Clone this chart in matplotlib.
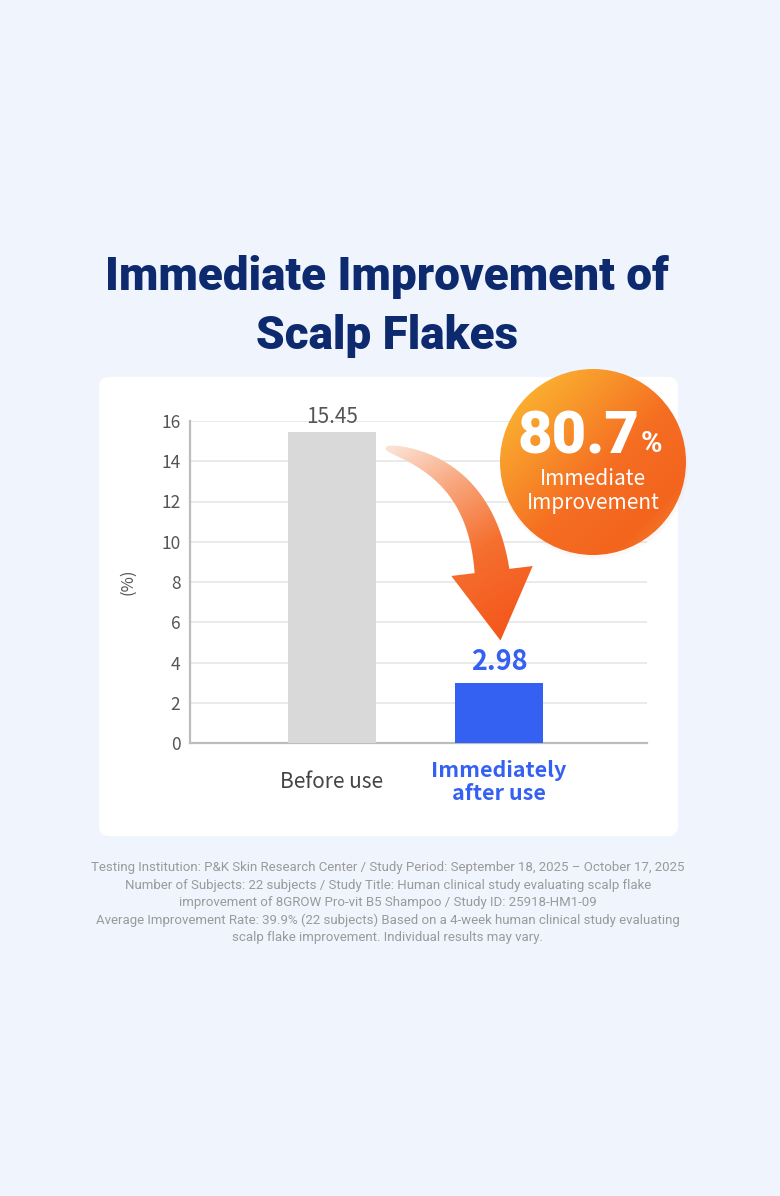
import numpy as np
import matplotlib
matplotlib.use("Agg")
import matplotlib.pyplot as plt
from matplotlib.patches import FancyBboxPatch, Circle, PathPatch
from matplotlib.path import Path
from matplotlib.colors import LinearSegmentedColormap
import matplotlib.transforms as mtransforms

# ---------------- data ----------------
categories = ["Before use", "Immediately\nafter use"]
values = [15.45, 2.98]
value_labels = ["15.45", "2.98"]
yticks = [0, 2, 4, 6, 8, 10, 12, 14, 16]
title_lines = ["Immediate Improvement of", "Scalp Flakes"]
badge_value = "80.7"
badge_unit = "%"
badge_text = ["Immediate", "Improvement"]
footnote_lines = [
    "Testing Institution: P&K Skin Research Center / Study Period: September 18, 2025 \u2013 October 17, 2025",
    "Number of Subjects: 22 subjects / Study Title: Human clinical study evaluating scalp flake",
    "improvement of 8GROW Pro-vit B5 Shampoo / Study ID: 25918-HM1-09",
    "Average Improvement Rate: 39.9% (22 subjects) Based on a 4-week human clinical study evaluating",
    "scalp flake improvement. Individual results may vary.",
]

# ---------------- style ----------------
W, H = 780, 1196
BG = "#EFF4FD"
NAVY = "#0E2A6E"
BLUE = "#3461F2"
GRAY_BAR = "#D9D9D9"
TXT = "#555555"
KR = ['Noto Sans CJK KR', 'DejaVu Sans']

plt.rcParams['font.family'] = ['Roboto', 'DejaVu Sans']

fig = plt.figure(figsize=(W / 100, H / 100), dpi=100, facecolor=BG)

# background overlay (pixel coordinates, y downward)
bg = fig.add_axes([0, 0, 1, 1], zorder=0)
bg.set_xlim(0, W); bg.set_ylim(H, 0); bg.axis("off")
card = FancyBboxPatch((99, 377), 579, 459, boxstyle="round,pad=0,rounding_size=10",
                      facecolor="white", edgecolor="none")
bg.add_patch(card)

# ---------------- chart ----------------
ax = fig.add_axes([190 / W, 1 - 743 / H, (647 - 190) / W, (743 - 421) / H], zorder=2)
ax.set_facecolor("none")
x = np.arange(len(categories))
ax.bar(x, values, width=0.527, color=[GRAY_BAR, BLUE], zorder=3)
ax.set_xlim(-0.85, 1.886)
ax.set_ylim(0, 16)
ax.set_yticks(yticks)
ax.set_xticks([])
ax.grid(axis="y", color="#E6E6E6", linewidth=1.2, zorder=0)
for s in ["top", "right"]:
    ax.spines[s].set_visible(False)
for s in ["left", "bottom"]:
    ax.spines[s].set_color("#BDBDBD")
    ax.spines[s].set_linewidth(1.6)
ax.tick_params(axis="y", length=0, pad=7, labelsize=12.5, labelcolor=TXT)
for lab in ax.get_yticklabels():
    lab.set_fontfamily(KR)
    lab.set_fontweight("light")

# value labels
ax.annotate(value_labels[0], (x[0], values[0]), xytext=(0, 3), textcoords="offset points",
            ha="center", va="bottom", fontsize=15, color=TXT, family=KR,
            fontweight="light", zorder=4)
ax.annotate(value_labels[1], (x[1], values[1]), xytext=(0, 15), textcoords="offset points",
            ha="center", va="center", fontsize=19.5, color=BLUE, fontweight="bold",
            family=KR, zorder=4)

# category labels
trans = mtransforms.blended_transform_factory(ax.transData, ax.transAxes)
ax.text(x[0], -39 / 322, categories[0], transform=trans, ha="center", va="center",
        fontsize=15, color="#444444", family=KR)
ax.text(x[1], -39 / 322, categories[1], transform=trans, ha="center", va="center",
        fontsize=15.5, color=BLUE, fontweight="bold", linespacing=1.12, family=KR)

fig.text(128 / W, 1 - 582 / H, "(%)", rotation=90, ha="center", va="center",
         fontsize=12, color=TXT, family=KR, fontweight="light")

# ---------------- title ----------------
fig.text(387 / W, 1 - 277 / H, title_lines[0], ha="center", va="center",
         fontsize=33, fontweight=900, color=NAVY)
fig.text(387 / W, 1 - 336 / H, title_lines[1], ha="center", va="center",
         fontsize=33, fontweight=900, color=NAVY)

# ---------------- foreground decorations ----------------
fg = fig.add_axes([0, 0, 1, 1], zorder=5)
fg.set_xlim(0, W); fg.set_ylim(H, 0); fg.axis("off")
fg.patch.set_alpha(0)

# curved arrow
def bez(p0, p1, p2, t):
    t = t[:, None]
    return (1 - t) ** 2 * p0 + 2 * (1 - t) * t * p1 + t ** 2 * p2

p0 = np.array([386.0, 448.0]); p1 = np.array([480.0, 468.0]); p2 = np.array([492.0, 571.0])
t = np.linspace(0, 1, 80)
c = bez(p0, p1, p2, t)
d = np.gradient(c, axis=0)
d /= np.linalg.norm(d, axis=1)[:, None]
nrm = np.stack([-d[:, 1], d[:, 0]], axis=1)
wdt = 1.5 + 16 * t ** 0.55
left = c + nrm * wdt[:, None]
right = c - nrm * wdt[:, None]
tang = d[-1]; n_end = nrm[-1]
head_l = c[-1] + n_end * 41
head_r = c[-1] - n_end * 41
tip = c[-1] + tang * 70
pts = np.vstack([left, head_l, tip, head_r, right[::-1], left[:1]])
arrow_path = Path(pts)
arrow_patch = PathPatch(arrow_path, facecolor="none", edgecolor="none")
fg.add_patch(arrow_patch)
ax0, ax1, ay0, ay1 = 370, 545, 440, 650
gx, gy = np.meshgrid(np.linspace(ax0, ax1, 200), np.linspace(ay0, ay1, 240))
vec = tip - p0
tt = ((gx - p0[0]) * vec[0] + (gy - p0[1]) * vec[1]) / (vec @ vec)
tt = np.clip(tt, 0, 1)
acmap = LinearSegmentedColormap.from_list("arr", [(0, "#FCE3D6"), (0.3, "#F8A47A"),
                                                  (0.6, "#F5702F"), (1, "#F4561B")])
im = fg.imshow(tt, cmap=acmap, vmin=0, vmax=1, extent=(ax0, ax1, ay1, ay0),
               origin="upper", interpolation="bilinear", zorder=3)
im.set_clip_path(arrow_patch)

# badge circle
cx, cy, r = 593, 462, 93
shadow = Circle((cx + 1, cy + 3), r + 1, facecolor="#F0B090", alpha=0.08, edgecolor="none", zorder=3)
fg.add_patch(shadow)
circ = Circle((cx, cy), r, facecolor="none", edgecolor="none")
fg.add_patch(circ)
bx0, bx1, by0, by1 = cx - r, cx + r, cy - r, cy + r
gx, gy = np.meshgrid(np.linspace(bx0, bx1, 300), np.linspace(by0, by1, 300))
u = np.clip(((gx - bx0) + (gy - by0)) / (4 * r), 0, 1)
ccmap = LinearSegmentedColormap.from_list("circ", [(0, "#FDC233"), (0.3, "#F8962B"),
                                                   (0.55, "#F56E22"), (0.8, "#F3641D"),
                                                   (1, "#F6913A")])
im2 = fg.imshow(u, cmap=ccmap, vmin=0, vmax=1, extent=(bx0, bx1, by1, by0),
                origin="upper", interpolation="bilinear", zorder=4)
im2.set_clip_path(circ)

fg.text(578, 437, badge_value, ha="center", va="center", fontsize=43, fontweight=900,
        color="white", zorder=6)
fg.text(641, 444, badge_unit, ha="left", va="center", fontsize=21, fontweight="bold",
        color="white", zorder=6)
fg.text(593, 479, badge_text[0], ha="center", va="center", fontsize=15, color="white", zorder=6,
        family=KR)
fg.text(593, 503, badge_text[1], ha="center", va="center", fontsize=15, color="white", zorder=6,
        family=KR)

# ---------------- footnote ----------------
for i, line in enumerate(footnote_lines):
    fg.text(388, 868 + i * 17.4, line, ha="center", va="center", fontsize=9.5,
            color="#9A9A9A", zorder=6)

fig.savefig("out.png", dpi=100, facecolor=BG)
